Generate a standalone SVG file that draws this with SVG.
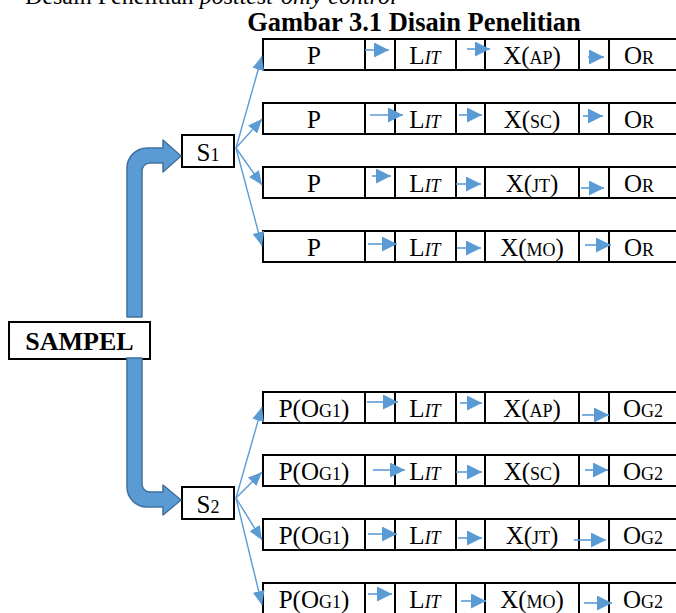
<svg xmlns="http://www.w3.org/2000/svg" width="676" height="613" viewBox="0 0 676 613">
  <defs>
    <style>
      .box{fill:#fff;stroke:#000;stroke-width:2}
      .div{stroke:#000;stroke-width:2;fill:none}
      .t{font-family:"Liberation Serif","Times New Roman",serif;font-size:25px;fill:#000;text-anchor:middle}
      .s{font-size:18px}
      .i{font-style:italic}
      .b{font-weight:bold}
      .big{fill:#5b9bd5;stroke:#41719c;stroke-width:1.5;stroke-linejoin:round}
      .fan{stroke:#5b9bd5;stroke-width:1.4;fill:none;marker-end:url(#ahf)}
      .step{stroke:#5b9bd5;stroke-width:1.6;fill:none;marker-end:url(#ahs)}
    </style>
    <marker id="ahf" viewBox="0 0 14 12" refX="14" refY="6" markerWidth="14" markerHeight="12" markerUnits="userSpaceOnUse" orient="auto">
      <path d="M0,0 L14,6 L0,12 z" fill="#5b9bd5"/>
    </marker>
    <marker id="ahs" viewBox="0 0 15 15" refX="15" refY="7.5" markerWidth="15" markerHeight="15" markerUnits="userSpaceOnUse" orient="auto">
      <path d="M0,0 L15,7.5 L0,15 z" fill="#5b9bd5"/>
    </marker>
  </defs>

  <rect width="676" height="613" fill="#fff"/>

  <!-- heading lines -->
  <text class="t" x="25" y="4" style="text-anchor:start;font-size:24px">Desain Penelitian <tspan class="i">posttest-only control</tspan></text>
  <text class="t b" x="414" y="31" style="font-size:26.5px">Gambar 3.1 Disain Penelitian</text>

  <!-- sample and sub-groups -->
  <g id="sampel">
    <rect class="box" x="9" y="322" width="141" height="37"/>
    <text class="t b" x="79.5" y="350" style="font-size:26px">SAMPEL</text>
  </g>
  <g id="s1">
    <rect class="box" x="182" y="135" width="52" height="32"/>
    <text class="t" x="208" y="161">S<tspan class="s">1</tspan></text>
  </g>
  <g id="s2">
    <rect class="box" x="182" y="487" width="52" height="32"/>
    <text class="t" x="208" y="513">S<tspan class="s">2</tspan></text>
  </g>

  <!-- treatment rows: P | L | X | O -->
  <g id="s1-ap" transform="translate(0,39)">
    <rect class="box" x="263" y="0" width="420" height="31"/>
    <path class="div" d="M365,0v31M395,0v31M456,0v31M485,0v31M579,0v31M609,0v31"/>
    <text class="t" x="314" y="25">P</text>
    <text class="t" x="425" y="25">L<tspan class="s i">IT</tspan></text>
    <text class="t" x="532" y="25">X(<tspan class="s">AP</tspan>)</text>
    <text class="t" x="639" y="25">O<tspan class="s">R</tspan></text>
  </g>
  <g id="s1-sc" transform="translate(0,103)">
    <rect class="box" x="263" y="0" width="420" height="31"/>
    <path class="div" d="M365,0v31M395,0v31M456,0v31M485,0v31M579,0v31M609,0v31"/>
    <text class="t" x="314" y="25">P</text>
    <text class="t" x="425" y="25">L<tspan class="s i">IT</tspan></text>
    <text class="t" x="532" y="25">X(<tspan class="s">SC</tspan>)</text>
    <text class="t" x="639" y="25">O<tspan class="s">R</tspan></text>
  </g>
  <g id="s1-jt" transform="translate(0,167)">
    <rect class="box" x="263" y="0" width="420" height="31"/>
    <path class="div" d="M365,0v31M395,0v31M456,0v31M485,0v31M579,0v31M609,0v31"/>
    <text class="t" x="314" y="25">P</text>
    <text class="t" x="425" y="25">L<tspan class="s i">IT</tspan></text>
    <text class="t" x="532" y="25">X(<tspan class="s">JT</tspan>)</text>
    <text class="t" x="639" y="25">O<tspan class="s">R</tspan></text>
  </g>
  <g id="s1-mo" transform="translate(0,231)">
    <rect class="box" x="263" y="0" width="420" height="31"/>
    <path class="div" d="M365,0v31M395,0v31M456,0v31M485,0v31M579,0v31M609,0v31"/>
    <text class="t" x="314" y="25">P</text>
    <text class="t" x="425" y="25">L<tspan class="s i">IT</tspan></text>
    <text class="t" x="532" y="25">X(<tspan class="s">MO</tspan>)</text>
    <text class="t" x="639" y="25">O<tspan class="s">R</tspan></text>
  </g>

  <g id="s2-ap" transform="translate(0,392)">
    <rect class="box" x="263" y="0" width="420" height="31"/>
    <path class="div" d="M365,0v31M395,0v31M456,0v31M485,0v31M579,0v31M609,0v31"/>
    <text class="t" x="314" y="25">P(O<tspan class="s">G1</tspan>)</text>
    <text class="t" x="425" y="25">L<tspan class="s i">IT</tspan></text>
    <text class="t" x="532" y="25">X(<tspan class="s">AP</tspan>)</text>
    <text class="t" x="643" y="25">O<tspan class="s">G2</tspan></text>
  </g>
  <g id="s2-sc" transform="translate(0,455)">
    <rect class="box" x="263" y="0" width="420" height="31"/>
    <path class="div" d="M365,0v31M395,0v31M456,0v31M485,0v31M579,0v31M609,0v31"/>
    <text class="t" x="314" y="25">P(O<tspan class="s">G1</tspan>)</text>
    <text class="t" x="425" y="25">L<tspan class="s i">IT</tspan></text>
    <text class="t" x="532" y="25">X(<tspan class="s">SC</tspan>)</text>
    <text class="t" x="643" y="25">O<tspan class="s">G2</tspan></text>
  </g>
  <g id="s2-jt" transform="translate(0,519)">
    <rect class="box" x="263" y="0" width="420" height="31"/>
    <path class="div" d="M365,0v31M395,0v31M456,0v31M485,0v31M579,0v31M609,0v31"/>
    <text class="t" x="314" y="25">P(O<tspan class="s">G1</tspan>)</text>
    <text class="t" x="425" y="25">L<tspan class="s i">IT</tspan></text>
    <text class="t" x="532" y="25">X(<tspan class="s">JT</tspan>)</text>
    <text class="t" x="643" y="25">O<tspan class="s">G2</tspan></text>
  </g>
  <g id="s2-mo" transform="translate(0,583)">
    <rect class="box" x="263" y="0" width="420" height="31"/>
    <path class="div" d="M365,0v31M395,0v31M456,0v31M485,0v31M579,0v31M609,0v31"/>
    <text class="t" x="314" y="25">P(O<tspan class="s">G1</tspan>)</text>
    <text class="t" x="425" y="25">L<tspan class="s i">IT</tspan></text>
    <text class="t" x="532" y="25">X(<tspan class="s">MO</tspan>)</text>
    <text class="t" x="643" y="25">O<tspan class="s">G2</tspan></text>
  </g>

  <g id="connectors">
    <!-- block arrows from SAMPEL to S1 and S2 -->
    <path class="big" d="M127,317 V168 A20,20 0 0 1 147,148 H163 V140 L181,156 L163,172 V163 H150 A8,8 0 0 0 142,171 V317 Z"/>
    <path class="big" d="M127,358 V487 A20,20 0 0 0 147,507 H163 V515 L181,500 L163,485 V492 H150 A8,8 0 0 1 142,484 V358 Z"/>

    <!-- fan-out from S1 -->
    <path class="fan" d="M236,148 L262,56"/>
    <path class="fan" d="M236,148 L262,119"/>
    <path class="fan" d="M236,148 L262,185"/>
    <path class="fan" d="M236,148 L262,246"/>
    <!-- fan-out from S2 -->
    <path class="fan" d="M236,498 L262,407"/>
    <path class="fan" d="M236,498 L262,472"/>
    <path class="fan" d="M236,498 L262,540"/>
    <path class="fan" d="M236,498 L262,605"/>

    <!-- step arrows inside each row -->
    <path class="step" d="M365,50 H389"/>
    <path class="step" d="M467,49 H490"/>
    <path class="step" d="M588,57 H604"/>

    <path class="step" d="M370,115 H403"/>
    <path class="step" d="M459,115 H482"/>
    <path class="step" d="M583,116 H603"/>

    <path class="step" d="M372,176 H391"/>
    <path class="step" d="M456,184 H481"/>
    <path class="step" d="M581,188 H604"/>

    <path class="step" d="M368,244 H397"/>
    <path class="step" d="M457,248 H481"/>
    <path class="step" d="M585,245 H611"/>

    <path class="step" d="M367,402 H398"/>
    <path class="step" d="M460,403 H482"/>
    <path class="step" d="M582,415 H609"/>

    <path class="step" d="M373,470 H405"/>
    <path class="step" d="M456,472 H482"/>
    <path class="step" d="M585,470 H608"/>

    <path class="step" d="M368,534 H397"/>
    <path class="step" d="M458,538 H482"/>
    <path class="step" d="M574,540 H606"/>

    <path class="step" d="M368,594 H392"/>
    <path class="step" d="M461,601 H486"/>
    <path class="step" d="M584,603 H612"/>
  </g>
</svg>
